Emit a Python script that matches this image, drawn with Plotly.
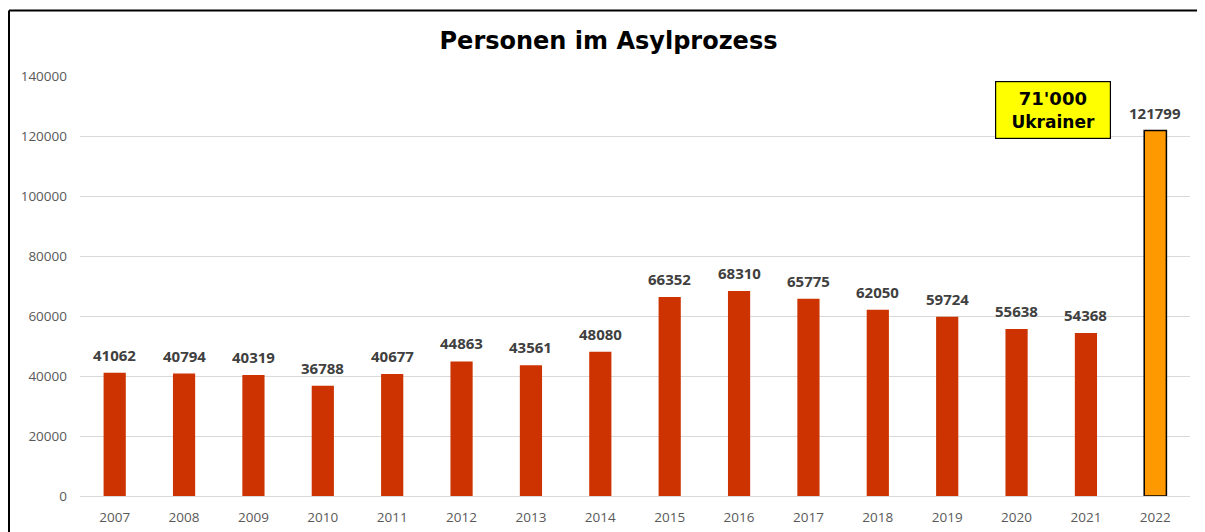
import plotly.graph_objects as go

years = ["2007", "2008", "2009", "2010", "2011", "2012", "2013", "2014",
         "2015", "2016", "2017", "2018", "2019", "2020", "2021", "2022"]
persons = [41062, 40794, 40319, 36788, 40677, 44863, 43561, 48080,
           66352, 68310, 65775, 62050, 59724, 55638, 54368, 121799]
y_ticks = [0, 20000, 40000, 60000, 80000, 100000, 120000, 140000]
title_text = "Personen im Asylprozess"
note_text = "71'000<br><span style='font-size:17px'>Ukrainer</span>"

colors = ["#CC3300"] * (len(years) - 1) + ["#FF9900"]
line_colors = ["rgba(0,0,0,0)"] * (len(years) - 1) + ["#000000"]
line_widths = [0] * (len(years) - 1) + [1.5]

W, H = 1205, 532
OFF = 8  # page body margin offset
# target plot area on screen: x 80..1190, y 76..496
L = 80 - OFF
T = 76 - OFF
R = W + OFF - 1190
B = H + OFF - 496
pw, ph = W - L - R, H - T - B

def px_x(px):
    return (px - OFF - L) / pw

def px_y(py):
    return (H - B - (py - OFF)) / ph

fig = go.Figure()
fig.add_trace(go.Bar(
    x=years, y=persons,
    marker=dict(color=colors, line=dict(color=line_colors, width=line_widths)),
    width=0.32,
    hoverinfo="x+y",
))

# value labels above bars (x given as category index)
for i, v in enumerate(persons):
    fig.add_annotation(
        x=i, y=v, xref="x", yref="y", text=str(v), showarrow=False,
        yanchor="bottom", yshift=6,
        font=dict(family="Open Sans", size=15, color="#404040", weight="bold"),
    )

fig.add_annotation(
    x=13.52, y=128700, xref="x", yref="y",
    text=note_text, showarrow=False,
    font=dict(family="DejaVu Sans", size=18, color="#000000", weight="bold"),
    bgcolor="#FFFF00", bordercolor="#000000", borderwidth=1.2, borderpad=3,
    width=108, height=50,
)

# outer frame lines (left and top)
fig.add_shape(type="line", xref="paper", yref="paper",
              x0=px_x(9), x1=px_x(1215), y0=px_y(10.5), y1=px_y(10.5),
              line=dict(color="#000000", width=2))
fig.add_shape(type="line", xref="paper", yref="paper",
              x0=px_x(9), x1=px_x(9), y0=px_y(10.5), y1=px_y(545),
              line=dict(color="#000000", width=2))

fig.update_layout(
    width=W, height=H,
    margin=dict(l=L, r=R, t=T, b=B),
    paper_bgcolor="white", plot_bgcolor="white",
    showlegend=False,
    title=dict(text=title_text, x=px_x(608.5), xref="paper", xanchor="center",
               y=1 - (41 - OFF) / H, yanchor="middle",
               font=dict(family="DejaVu Sans", size=24, color="#000000", weight="bold")),
    xaxis=dict(type="category", showgrid=False, showline=False, ticks="",
               range=[-0.5, len(years) - 0.5],
               ticklabelstandoff=11,
               tickfont=dict(family="Open Sans", size=13.5, color="#595959")),
    yaxis=dict(range=[0, 140000], tickvals=y_ticks, ticktext=[str(v) for v in y_ticks],
               showgrid=True, gridcolor="#D9D9D9", gridwidth=1,
               zeroline=True, zerolinecolor="#D9D9D9", zerolinewidth=1,
               showline=False, ticks="", ticklabelstandoff=12,
               tickfont=dict(family="Open Sans", size=13.5, color="#595959")),
)

fig.write_html("out.html")
